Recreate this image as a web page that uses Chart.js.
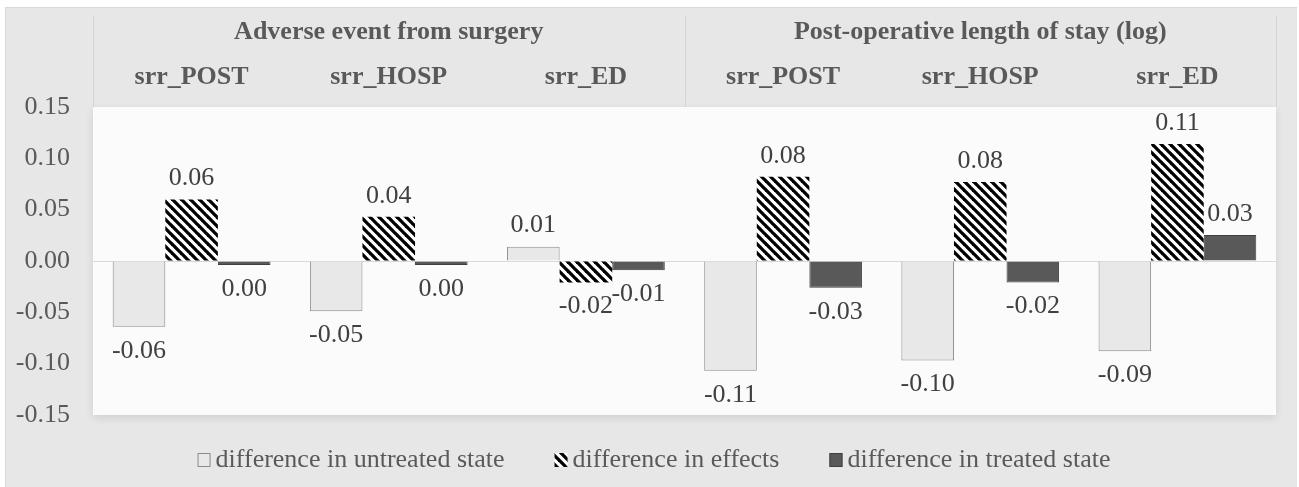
<!DOCTYPE html>
<html>
<head>
<meta charset="utf-8">
<script src="https://cdn.jsdelivr.net/npm/chart.js@4/dist/chart.umd.min.js"></script>
<style>
html,body{margin:0;padding:0;background:#fff;}
#wrap{width:1299px;height:487px;position:relative;}
</style>
</head>
<body>
<div id="wrap"><canvas id="c"></canvas></div>
<script>
const groupTitles = ['Adverse event from surgery', 'Post-operative length of stay (log)'];
const categories = ['srr_POST', 'srr_HOSP', 'srr_ED', 'srr_POST', 'srr_HOSP', 'srr_ED'];
const seriesNames = ['difference in untreated state', 'difference in effects', 'difference in treated state'];
const untreated = [-0.064, -0.049, 0.014, -0.107, -0.097, -0.088];
const effects = [0.060, 0.043, -0.021, 0.082, 0.077, 0.114];
const treated = [-0.004, -0.004, -0.009, -0.026, -0.021, 0.0253];
const yTicks = [-0.15, -0.10, -0.05, 0.00, 0.05, 0.10, 0.15];

const FONT = "'Liberation Serif', 'Times New Roman', serif";
const canvas = document.getElementById('c');
const mainCtx = canvas.getContext('2d');

function makeHatch() {
  const s = 9;
  const c = document.createElement('canvas');
  c.width = s; c.height = s;
  const g = c.getContext('2d');
  g.fillStyle = '#ffffff';
  g.fillRect(0, 0, s, s);
  g.strokeStyle = '#000000';
  g.lineWidth = 3.3;
  for (const k of [-1, 0, 1]) {
    g.beginPath();
    g.moveTo(k * s - 2, -2);
    g.lineTo(k * s + s + 2, s + 2);
    g.stroke();
  }
  return mainCtx.createPattern(c, 'repeat');
}
const hatch = makeHatch();

const bgPlugin = {
  id: 'bg',
  beforeDraw(chart) {
    const ctx = chart.ctx;
    const a = chart.chartArea;
    ctx.save();
    ctx.fillStyle = '#ffffff';
    ctx.fillRect(0, 0, chart.width, chart.height);
    ctx.fillStyle = '#e7e7e7';
    ctx.fillRect(5, 7, 1292, 480);
    ctx.strokeStyle = '#d9d9d9';
    ctx.lineWidth = 1;
    ctx.beginPath();
    ctx.moveTo(5.5, 487); ctx.lineTo(5.5, 7.5); ctx.lineTo(1297, 7.5);
    ctx.stroke();
    // plot area with soft shadow
    ctx.save();
    ctx.shadowColor = 'rgba(0,0,0,0.10)';
    ctx.shadowBlur = 8;
    ctx.shadowOffsetY = 3;
    ctx.fillStyle = '#fbfbfb';
    ctx.fillRect(a.left, a.top, a.right - a.left, a.bottom - a.top);
    ctx.restore();
    // header separators
    const x = chart.scales.x;
    const half = (x.getPixelForValue(1) - x.getPixelForValue(0)) / 2;
    const seps = [a.left, x.getPixelForValue(2) + half, a.right];
    ctx.strokeStyle = '#d4d4d4';
    ctx.beginPath();
    seps.forEach(sx => { const px = Math.round(sx) + 0.5; ctx.moveTo(px, 16); ctx.lineTo(px, a.top); });
    ctx.stroke();
    // header text
    ctx.fillStyle = '#595959';
    ctx.font = 'bold 26px ' + FONT;
    ctx.textAlign = 'center';
    ctx.textBaseline = 'middle';
    ctx.fillText(groupTitles[0], (seps[0] + seps[1]) / 2, 32);
    ctx.fillText(groupTitles[1], (seps[1] + seps[2]) / 2, 32);
    categories.forEach((c, i) => ctx.fillText(c, x.getPixelForValue(i), 77));
    ctx.restore();
  }
};

const labelPlugin = {
  id: 'labels',
  afterDatasetsDraw(chart) {
    const ctx = chart.ctx;
    ctx.save();
    ctx.font = '26px ' + FONT;
    ctx.fillStyle = '#404040';
    ctx.textAlign = 'center';
    ctx.textBaseline = 'middle';
    chart.data.datasets.forEach((ds, i) => {
      const meta = chart.getDatasetMeta(i);
      meta.data.forEach((bar, j) => {
        const v = ds.data[j];
        let t = v.toFixed(2);
        if (t === '-0.00') t = '0.00';
        const y = v >= 0 ? bar.y - 21 : bar.y + 24;
        ctx.fillText(t, bar.x, y);
      });
    });
    ctx.restore();
  }
};

const legendPlugin = {
  id: 'customLegend',
  afterDraw(chart) {
    const ctx = chart.ctx;
    ctx.save();
    ctx.font = '26px ' + FONT;
    ctx.textBaseline = 'middle';
    ctx.textAlign = 'left';
    const box = 13, gapText = 5, gapItem = 50;
    const items = chart.data.datasets.map(ds => ({ label: ds.label, bg: ds.backgroundColor, bc: ds.borderColor, bw: ds.borderWidth, w: ctx.measureText(ds.label).width }));
    const total = items.reduce((s, it) => s + box + gapText + it.w, 0) + gapItem * (items.length - 1);
    let x = 654 - total / 2;
    const cy = 460;
    items.forEach(it => {
      ctx.fillStyle = it.bg;
      ctx.fillRect(x, cy - 7, box, 14);
      if (it.bw) {
        ctx.strokeStyle = it.bc;
        ctx.lineWidth = 1;
        ctx.strokeRect(x + 0.5, cy - 6.5, box - 1, 13);
      }
      ctx.fillStyle = '#595959';
      ctx.fillText(it.label, x + box + gapText, cy);
      x += box + gapText + it.w + gapItem;
    });
    ctx.restore();
  }
};

new Chart(canvas, {
  type: 'bar',
  data: {
    labels: categories,
    datasets: [
      { label: seriesNames[0], data: untreated, backgroundColor: '#e8e8e8', borderColor: '#8a8a8a', borderWidth: 1 },
      { label: seriesNames[1], data: effects, backgroundColor: hatch, borderColor: '#000000', borderWidth: 0 },
      { label: seriesNames[2], data: treated, backgroundColor: '#595959', borderColor: '#3f3f3f', borderWidth: 1 }
    ]
  },
  options: {
    responsive: true,
    maintainAspectRatio: false,
    devicePixelRatio: 1,
    animation: false,
    layout: { padding: { left: 0, top: 107, right: 23, bottom: 72 } },
    datasets: { bar: { categoryPercentage: 0.8, barPercentage: 1.0 } },
    plugins: { legend: { display: false }, tooltip: { enabled: false }, title: { display: false } },
    scales: {
      x: { display: false, grid: { display: false } },
      y: {
        min: yTicks[0],
        max: yTicks[yTicks.length - 1],
        afterFit(s) { s.width = 93; },
        afterBuildTicks(s) { s.ticks = yTicks.map(v => ({ value: v })); },
        border: { display: false },
        grid: {
          drawTicks: false,
          color: ctx => (ctx.tick && Math.abs(ctx.tick.value) < 1e-9) ? '#d9d9d9' : 'rgba(0,0,0,0)',
          lineWidth: 1
        },
        ticks: {
          padding: 23,
          color: '#595959',
          font: { family: FONT, size: 26 },
          callback: v => Number(v).toFixed(2)
        }
      }
    }
  },
  plugins: [bgPlugin, labelPlugin, legendPlugin]
});
</script>
</body>
</html>
